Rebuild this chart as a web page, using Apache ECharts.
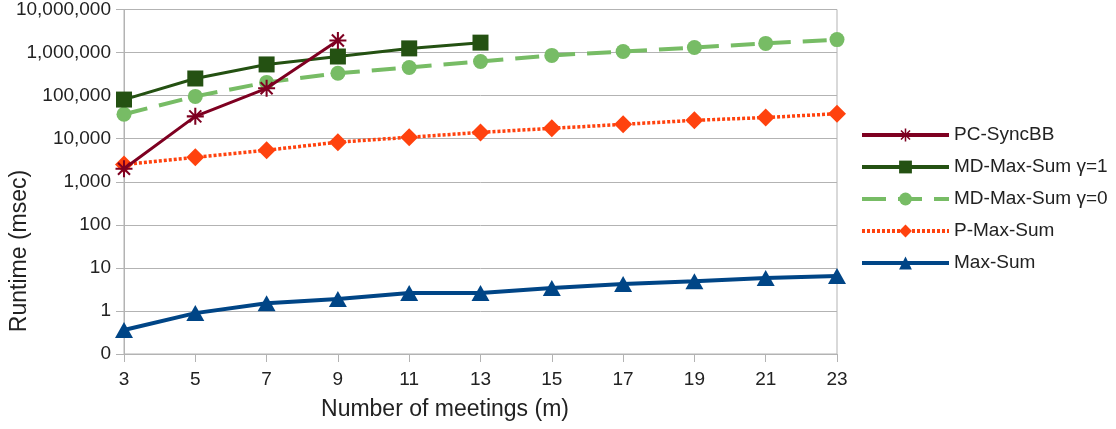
<!DOCTYPE html>
<html>
<head>
<meta charset="utf-8">
<title>Runtime vs number of meetings</title>
<script src="https://cdn.jsdelivr.net/npm/echarts@6/dist/echarts.min.js"></script>
<style>
  html, body { margin: 0; padding: 0; background: #fff; }
  #chart { width: 1116px; height: 429px; }
</style>
</head>
<body>
<div id="chart"></div>
<script>
// Number of meetings (m)
var meetings = ['3', '5', '7', '9', '11', '13', '15', '17', '19', '21', '23'];

// Runtime in msec for each algorithm (null where no run finished)
var pcSyncBB   = [2000, 33000, 148000, 1900000, null, null, null, null, null, null, null];
var mdMaxSum1  = [81000, 250000, 530000, 810000, 1250000, 1700000, null, null, null, null, null];
var mdMaxSum0  = [37000, 96000, 203000, 330000, 450000, 620000, 860000, 1060000, 1310000, 1630000, 2000000];
var pMaxSum    = [2500, 3700, 5400, 8300, 10800, 14000, 17400, 21500, 26700, 31000, 38000];
var maxSum     = [0.36, 0.89, 1.5, 1.9, 2.6, 2.6, 3.4, 4.2, 4.9, 5.8, 6.5];

// Log-axis ticks and their labels
var yTickValues = [0.1, 1, 10, 100, 1000, 10000, 100000, 1000000, 10000000];
var yTickLabels = ['0', '1', '10', '100', '1,000', '10,000', '100,000', '1,000,000', '10,000,000'];

var FONT = '"Liberation Sans", Arial, sans-serif';
var TEXT = '#222222';
var GRID = '#b3b3b3';

var C_PC  = '#7e0021';
var C_MD1 = '#245112';
var C_MD0 = '#77bc65';
var C_P   = '#ff420e';
var C_MS  = '#004586';

// eight-armed asterisk marker
var asterisk = 'path://M8.8 0L11.2 0L11.2 20L8.8 20Z' +
  'M0 8.8L20 8.8L20 11.2L0 11.2Z' +
  'M3.78 2.08L17.92 16.22L16.22 17.92L2.08 3.78Z' +
  'M16.22 2.08L17.92 3.78L3.78 17.92L2.08 16.22Z';

function labelFor(v) {
  for (var i = 0; i < yTickValues.length; i++) {
    if (Math.abs(Math.log10(v) - Math.log10(yTickValues[i])) < 1e-6) return yTickLabels[i];
  }
  return '';
}

var chart = echarts.init(document.getElementById('chart'), null, { renderer: 'canvas' });

chart.setOption({
  animation: false,
  backgroundColor: '#ffffff',
  textStyle: { fontFamily: FONT, color: TEXT },
  grid: {
    left: 124, right: 279, top: 9, bottom: 75,
    show: true, borderColor: GRID, borderWidth: 1, backgroundColor: 'transparent'
  },
  legend: {
    orient: 'vertical',
    left: 860,
    top: 125,
    padding: 0,
    itemWidth: 87,
    itemHeight: 16,
    itemGap: 12,
    textStyle: { fontFamily: FONT, fontSize: 19, color: TEXT, lineHeight: 20 },
    data: [
      { name: 'PC-SyncBB', lineStyle: { width: 4 } },
      { name: 'MD-Max-Sum γ=1', lineStyle: { width: 4 } },
      { name: 'MD-Max-Sum γ=0', lineStyle: { width: 4 } },
      { name: 'P-Max-Sum', lineStyle: { width: 4 } },
      { name: 'Max-Sum', lineStyle: { width: 4 } }
    ]
  },
  xAxis: {
    type: 'category',
    data: meetings,
    boundaryGap: false,
    axisLine: { show: true, lineStyle: { color: GRID, width: 1 } },
    axisTick: { show: true, alignWithLabel: true, length: 8, lineStyle: { color: GRID } },
    axisLabel: { fontFamily: FONT, fontSize: 19, color: TEXT, margin: 16 },
    splitLine: { show: false }
  },
  yAxis: {
    type: 'log',
    logBase: 10,
    min: 0.1,
    max: 10000000,
    splitNumber: 8,
    axisLine: { show: true, lineStyle: { color: GRID, width: 1 } },
    axisTick: { show: true, length: 8, lineStyle: { color: GRID } },
    axisLabel: { fontFamily: FONT, fontSize: 19, color: TEXT, margin: 13, formatter: labelFor },
    splitLine: { show: true, lineStyle: { color: GRID, width: 1 } }
  },
  graphic: [
    {
      type: 'text',
      x: 445, y: 410,
      style: {
        text: 'Number of meetings (m)',
        font: '23px ' + FONT,
        fill: TEXT,
        textAlign: 'center',
        textVerticalAlign: 'middle'
      }
    },
    {
      type: 'text',
      x: 20, y: 251,
      rotation: Math.PI / 2,
      style: {
        text: 'Runtime (msec)',
        font: '23px ' + FONT,
        fill: TEXT,
        textAlign: 'center',
        textVerticalAlign: 'middle'
      }
    }
  ],
  series: [
    {
      name: 'Max-Sum',
      type: 'line',
      data: maxSum,
      symbol: 'triangle',
      symbolSize: [18, 16],
      lineStyle: { color: C_MS, width: 4 },
      itemStyle: { color: C_MS },
      z: 2
    },
    {
      name: 'P-Max-Sum',
      type: 'line',
      data: pMaxSum,
      symbol: 'diamond',
      symbolSize: [18, 18],
      lineStyle: { color: C_P, width: 3.5, type: [3, 2] },
      itemStyle: { color: C_P },
      z: 3
    },
    {
      name: 'MD-Max-Sum γ=0',
      type: 'line',
      data: mdMaxSum0,
      symbol: 'circle',
      symbolSize: 15,
      lineStyle: { color: C_MD0, width: 4, type: [24, 12] },
      itemStyle: { color: C_MD0 },
      z: 4
    },
    {
      name: 'MD-Max-Sum γ=1',
      type: 'line',
      data: mdMaxSum1,
      symbol: 'rect',
      symbolSize: 16,
      lineStyle: { color: C_MD1, width: 3 },
      itemStyle: { color: C_MD1 },
      z: 5
    },
    {
      name: 'PC-SyncBB',
      type: 'line',
      data: pcSyncBB,
      symbol: asterisk,
      symbolSize: 17,
      lineStyle: { color: C_PC, width: 3 },
      itemStyle: { color: C_PC },
      z: 6
    }
  ]
});
</script>
</body>
</html>
